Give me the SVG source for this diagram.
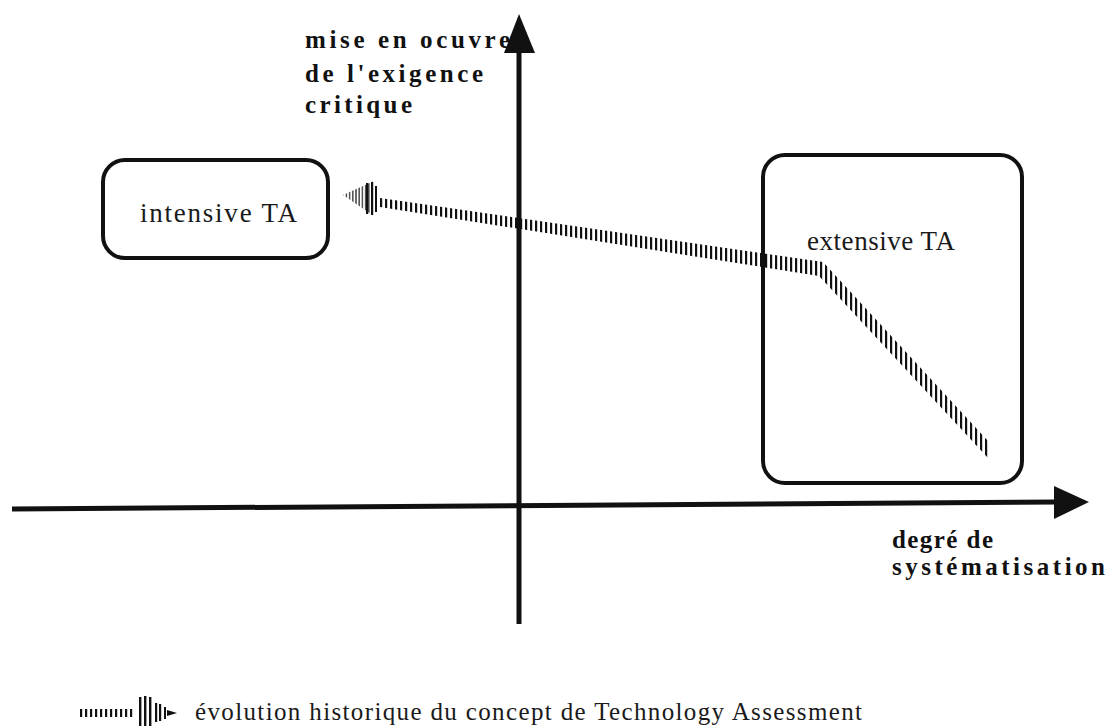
<svg xmlns="http://www.w3.org/2000/svg" width="1108" height="726" viewBox="0 0 1108 726">
  <style>
    .box { fill: none; stroke: #111; stroke-width: 4; }
    .lbl { font-family: "Liberation Serif", "Times New Roman", serif; font-size: 27px; fill: #1a1a1a; }
    .ax { font-family: "Liberation Serif", "Times New Roman", serif; font-size: 25px; font-weight: bold; fill: #111; }
    .leg { font-family: "Liberation Serif", "Times New Roman", serif; font-size: 25px; fill: #1a1a1a; }
    .axis { stroke: #111; stroke-width: 5; fill: none; }
    .head { fill: #111; }
  </style>
  <defs>
    <pattern id="hatch" width="5" height="10" patternUnits="userSpaceOnUse">
      <rect x="0" y="0" width="2.2" height="10" fill="#111"/>
    </pattern>
    <pattern id="hatchGrey" width="3.2" height="10" patternUnits="userSpaceOnUse">
      <rect x="0" y="0" width="1.6" height="10" fill="#555"/>
    </pattern>
  </defs>
  <rect width="1108" height="726" fill="#ffffff"/>

  <g id="axes">
    <line class="axis" x1="519" y1="48" x2="519" y2="624"/>
    <polygon class="head" points="519,14 535,53 504,53"/>
    <line class="axis" x1="12" y1="509" x2="1058" y2="502"/>
    <polygon class="head" points="1089,502 1054,486 1054,519"/>
  </g>

  <g id="axis-labels">
    <text class="ax" x="305" y="48" textLength="205" lengthAdjust="spacing">mise en ocuvre</text>
    <text class="ax" x="305" y="82" textLength="178" lengthAdjust="spacing">de l'exigence</text>
    <text class="ax" x="305" y="113" textLength="107" lengthAdjust="spacing">critique</text>
    <text class="ax" x="892" y="548" textLength="101" lengthAdjust="spacing">degré de</text>
    <text class="ax" x="892" y="575" textLength="213" lengthAdjust="spacing">systématisation</text>
  </g>

  <g id="intensive">
    <rect class="box" x="103" y="160" width="225" height="98" rx="22" ry="22"/>
    <text class="lbl" x="140" y="222" textLength="157" lengthAdjust="spacing">intensive TA</text>
  </g>

  <g id="extensive">
    <rect class="box" x="763" y="155" width="259" height="328" rx="22" ry="22"/>
    <text class="lbl" x="807" y="250" textLength="148" lengthAdjust="spacing">extensive TA</text>
  </g>

  <g id="connectors">
    <polygon fill="url(#hatch)" points="380,198 823,262 988,441 988,458 819,276 380,207"/>
    <polygon fill="url(#hatchGrey)" points="343,195 374,181 374,216"/>
    <rect x="366" y="183" width="2.2" height="31" fill="#111"/>
    <rect x="371" y="182" width="2.2" height="33" fill="#111"/>
    <rect x="375" y="186" width="2" height="26" fill="#111"/>
  </g>

  <g id="legend">
    <rect x="80" y="709" width="55" height="8" fill="url(#hatch)"/>
    <rect x="139" y="697" width="2.4" height="29" fill="#111"/>
    <rect x="144" y="696" width="2.4" height="30" fill="#111"/>
    <rect x="149" y="697" width="2.4" height="29" fill="#111"/>
    <rect x="155" y="703" width="2.2" height="19" fill="#111"/>
    <rect x="159" y="704" width="2.2" height="17" fill="#111"/>
    <rect x="164" y="707" width="2" height="12" fill="#111"/>
    <polygon fill="#111" points="167,710 177,713 167,716"/>
    <text class="leg" x="195" y="720" textLength="667" lengthAdjust="spacing">évolution historique du concept de Technology Assessment</text>
  </g>
</svg>
